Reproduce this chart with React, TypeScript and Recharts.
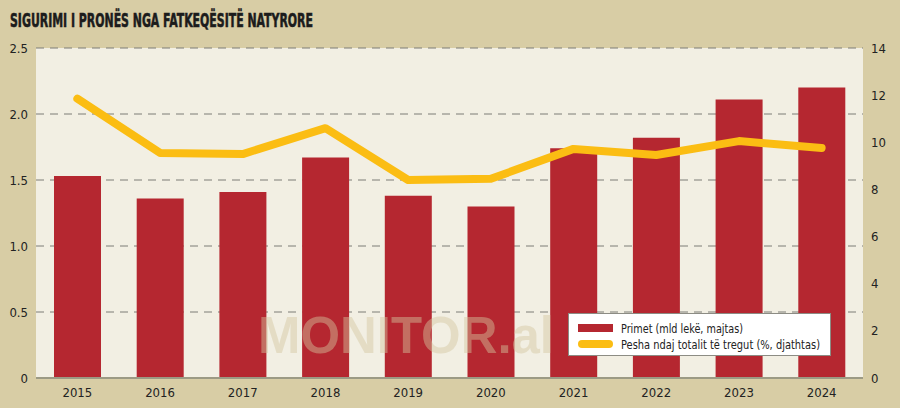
import { ComposedChart, Bar, Line, XAxis, YAxis, CartesianGrid } from 'recharts';

const years = ['2015', '2016', '2017', '2018', '2019', '2020', '2021', '2022', '2023', '2024'];
const premiums = [1.53, 1.36, 1.41, 1.67, 1.38, 1.30, 1.74, 1.82, 2.11, 2.20];
const marketShare = [11.85, 9.55, 9.5, 10.6, 8.4, 8.45, 9.72, 9.46, 10.05, 9.76];
const leftTicks = [0, 0.5, 1, 1.5, 2, 2.5];
const rightTicks = [0, 2, 4, 6, 8, 10, 12, 14];
const legendLabels = ['Primet (mld lekë, majtas)', 'Pesha ndaj totalit të tregut (%, djathtas)'];

const data = years.map((year, i) => ({ year, primet: premiums[i], pesha: marketShare[i] }));

const FONT = "'DejaVu Sans Condensed', 'Liberation Sans Narrow', sans-serif";
const RED = '#b52730';
const YELLOW = '#fbbd13';

const fmtLeft = (v: number) => (v === 0 ? '0' : v.toFixed(1));
const tickStyle = { fill: '#222', fontSize: 13, fontFamily: FONT };

const App = () => (
  <div style={{ position: 'fixed', left: 0, top: 0, width: 900, height: 408, background: '#d8cda5' }}>
    <ComposedChart
      width={900}
      height={408}
      data={data}
      margin={{ top: 48, right: 0, bottom: 0, left: 0 }}
    >
      <CartesianGrid
        yAxisId="left"
        vertical={false}
        fill="#f2efe3"
        stroke="#7d7d76"
        strokeDasharray="8 6"
      />
      <XAxis
        dataKey="year"
        height={30}
        tickLine={false}
        axisLine={{ stroke: '#9c9a84', strokeWidth: 2 }}
        tick={tickStyle}
        tickMargin={4}
      />
      <YAxis
        yAxisId="left"
        orientation="left"
        width={36}
        domain={[0, 2.5]}
        ticks={leftTicks}
        tickFormatter={fmtLeft}
        axisLine={false}
        tickLine={false}
        tick={tickStyle}
      />
      <YAxis
        yAxisId="right"
        orientation="right"
        width={37}
        domain={[0, 14]}
        ticks={rightTicks}
        axisLine={false}
        tickLine={false}
        tick={tickStyle}
      />
      <Bar yAxisId="left" dataKey="primet" fill={RED} barSize={47} isAnimationActive={false} />
      <Line
        yAxisId="right"
        dataKey="pesha"
        type="linear"
        stroke={YELLOW}
        strokeWidth={8}
        strokeLinecap="round"
        strokeLinejoin="round"
        dot={false}
        activeDot={false}
        isAnimationActive={false}
      />
    </ComposedChart>
    <svg width={900} height={408} style={{ position: 'absolute', left: 0, top: 0, pointerEvents: 'none' }}>
      <text
        x={10}
        y={27}
        fontFamily="'DejaVu Sans Condensed', 'DejaVu Sans', sans-serif"
        fontWeight="bold"
        fontSize={20}
        fill="#1c1c1c"
        stroke="#1c1c1c"
        strokeWidth={0.6}
        textLength={303}
        lengthAdjust="spacingAndGlyphs"
      >
        SIGURIMI I PRONËS NGA FATKEQËSITË NATYRORE
      </text>
      <text
        x={258}
        y={353}
        fontFamily="'Liberation Sans', Arial, sans-serif"
        fontWeight="bold"
        fontSize={52}
        fill="#d4c7a0"
        opacity={0.45}
        textLength={296}
        lengthAdjust="spacingAndGlyphs"
      >
        MONITOR.al
      </text>
      <rect x={568.5} y={313.5} width={262} height={42} fill="#fff" stroke="#8c8c84" />
      <rect x={578} y={324} width={35} height={8} fill={RED} />
      <rect x={578} y={340} width={35} height={8} rx={4} fill={YELLOW} />
      <text x={621} y={333} fontFamily={FONT} fontSize={13} fill="#222" textLength={122} lengthAdjust="spacingAndGlyphs">
        {legendLabels[0]}
      </text>
      <text x={621} y={349} fontFamily={FONT} fontSize={13} fill="#222" textLength={199} lengthAdjust="spacingAndGlyphs">
        {legendLabels[1]}
      </text>
    </svg>
  </div>
);

export default App;
